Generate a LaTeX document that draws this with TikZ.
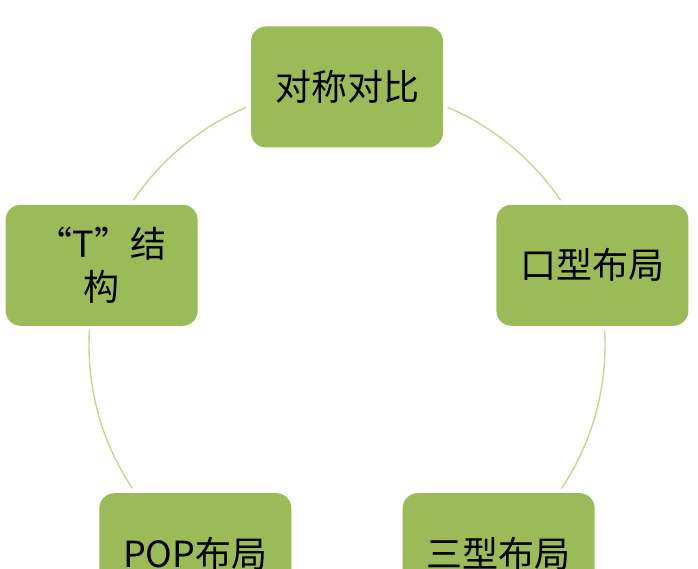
\documentclass[tikz,border=0pt]{standalone}
\usepackage{fontspec}
\setmainfont{Noto Sans CJK SC}
\usetikzlibrary{calc}
\definecolor{boxgreen}{HTML}{9BBB59}
\definecolor{ringgreen}{HTML}{C4D79B}
\begin{document}
\begin{tikzpicture}[x=1pt,y=-1pt,
  box/.style={rectangle, rounded corners=15pt, fill=boxgreen,
    minimum width=192pt, minimum height=121pt, inner sep=0pt,
    text width=185pt, align=center, font=\fontsize{36pt}{43pt}\selectfont,
    preaction={draw=white, line width=9pt}},
  ring/.style={draw=ringgreen, line width=1.4pt}]
\useasboundingbox (0,0) rectangle (698,569);
\coordinate (O) at (347,345);
\draw[ring] (O) circle (258);
\node[box] (top) at ($(O)+(-90:258)$) {对称对比};
\node[box] (right) at ($(O)+(-18:258)$) {口型布局};
\node[box] (bright) at ($(O)+(54:258)$) {三型布局};
\node[box] (bleft) at ($(O)+(126:258)$) {POP布局};
\node[box] (left) at ($(O)+(198:258)$) {“T”结\\构};
\end{tikzpicture}
\end{document}
